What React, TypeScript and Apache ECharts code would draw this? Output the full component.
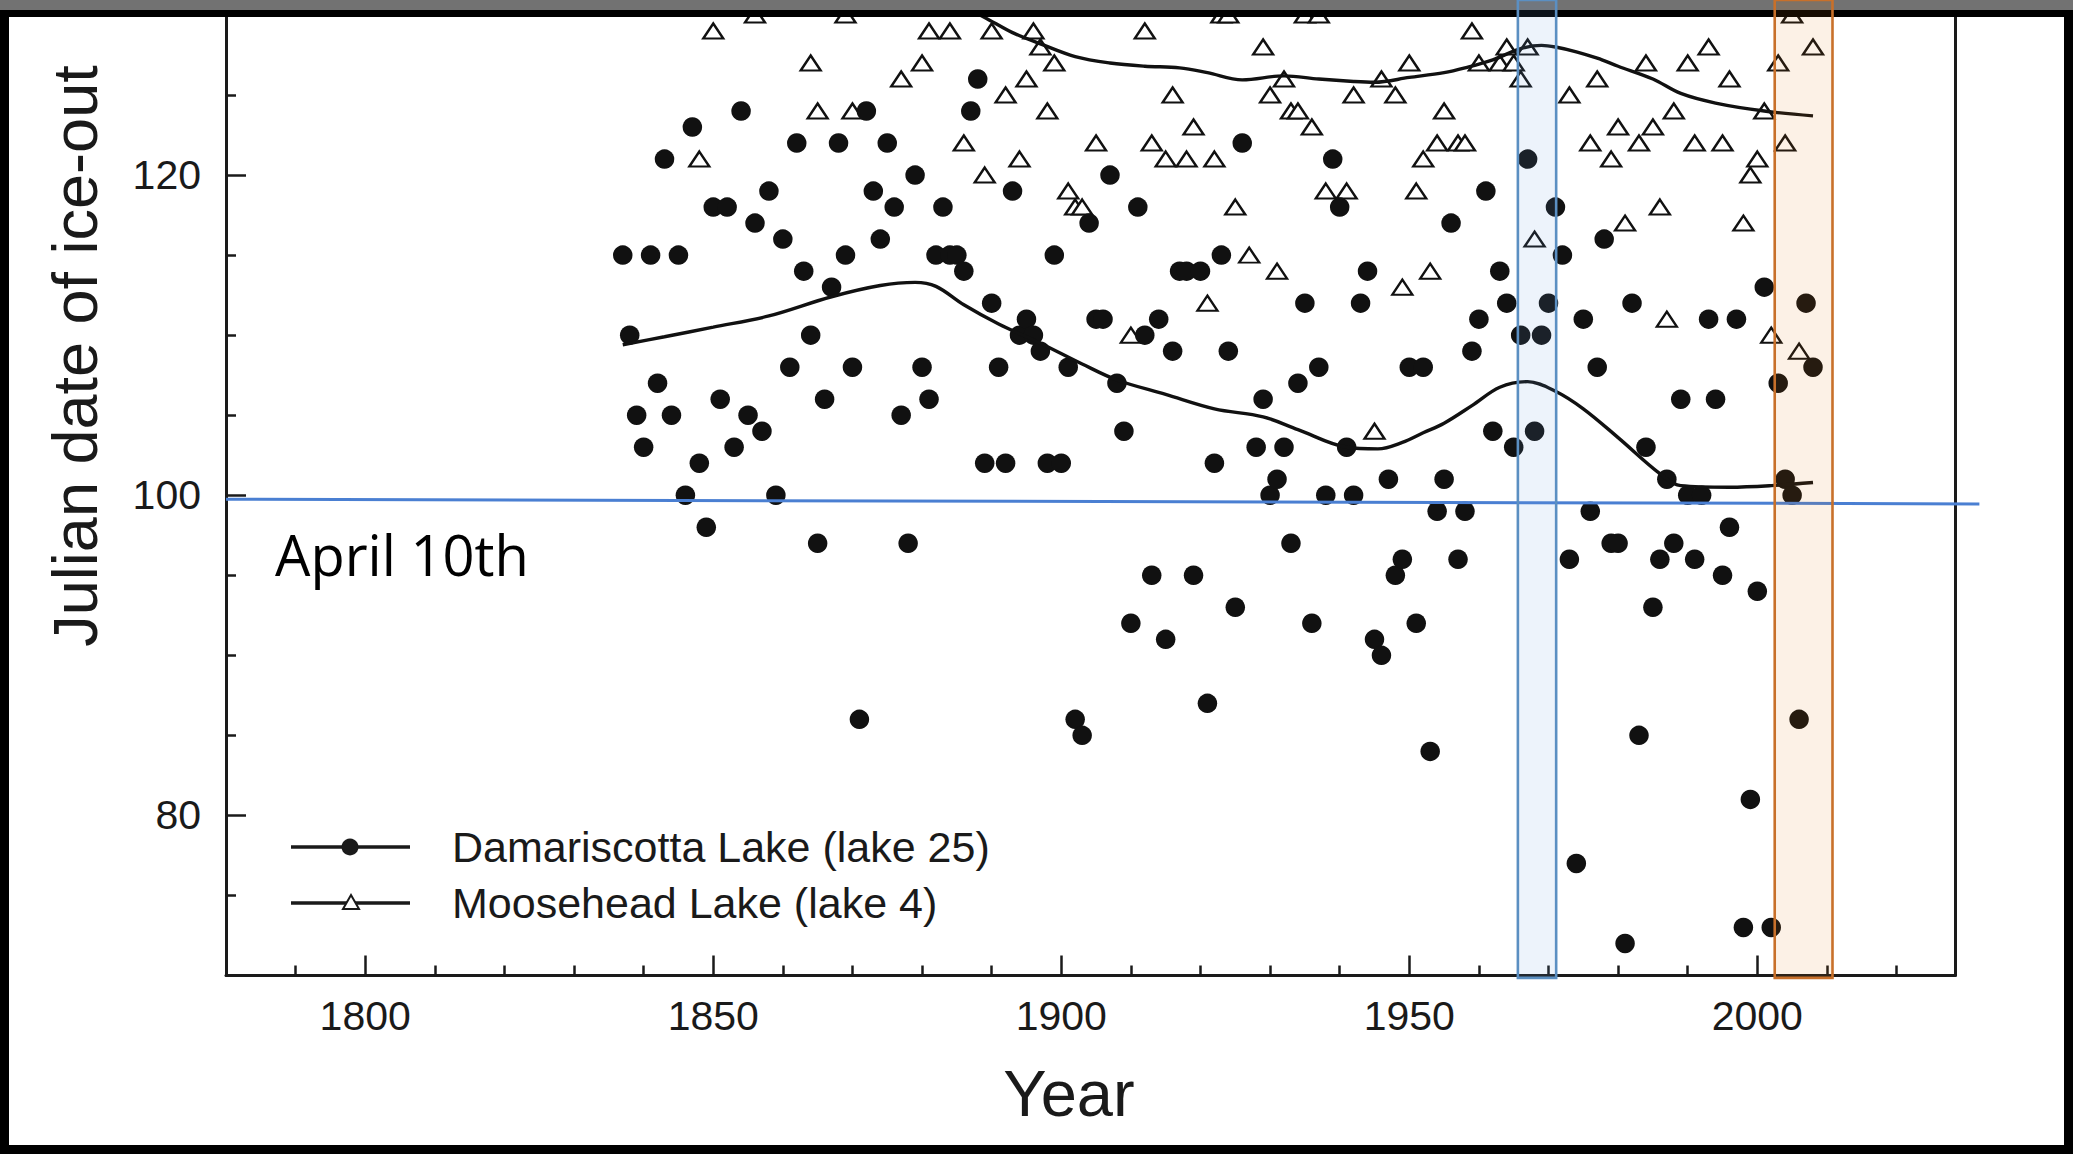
import React, { useEffect, useRef } from "react";
import * as echarts from "echarts";

// ---------------- data ----------------
const damYears = [
  1837, 1838, 1839, 1840, 1841, 1842, 1843, 1844, 1845, 1846, 1847, 1848, 1849, 1850, 1851, 1852, 1853, 1854, 1855, 1856,
  1857, 1858, 1859, 1860, 1861, 1862, 1863, 1864, 1865, 1866, 1867, 1868, 1869, 1870, 1871, 1872, 1873, 1874, 1875, 1876,
  1877, 1878, 1879, 1880, 1881, 1882, 1883, 1884, 1885, 1886, 1887, 1888, 1889, 1890, 1891, 1892, 1893, 1894, 1895, 1896,
  1897, 1898, 1899, 1900, 1901, 1902, 1903, 1904, 1905, 1906, 1907, 1908, 1909, 1910, 1911, 1912, 1913, 1914, 1915, 1916,
  1917, 1918, 1919, 1920, 1921, 1922, 1923, 1924, 1925, 1926, 1928, 1929, 1930, 1931, 1932, 1933, 1934, 1935, 1936, 1937,
  1938, 1939, 1940, 1941, 1942, 1943, 1944, 1945, 1946, 1947, 1948, 1949, 1950, 1951, 1952, 1953, 1954, 1955, 1956, 1957,
  1958, 1959, 1960, 1961, 1962, 1963, 1964, 1965, 1966, 1967, 1968, 1969, 1970, 1971, 1972, 1973, 1974, 1975, 1976, 1977,
  1978, 1979, 1980, 1981, 1982, 1983, 1984, 1985, 1986, 1987, 1988, 1989, 1990, 1991, 1992, 1993, 1994, 1995, 1996, 1997,
  1998, 1999, 2000, 2001, 2002, 2003, 2004, 2005, 2006, 2007, 2008,
];
const damDays = [
  115, 110, 105, 103, 115, 107, 121, 105, 115, 100, 123, 102, 98, 118, 106, 118, 103, 124, 105, 117,
  104, 119, 100, 116, 108, 122, 114, 110, 97, 106, 113, 122, 115, 108, 86, 124, 119, 116, 122, 118,
  105, 97, 120, 108, 106, 115, 118, 115, 115, 114, 124, 126, 102, 112, 108, 102, 119, 110, 111, 110,
  109, 102, 115, 102, 108, 86, 85, 117, 111, 111, 120, 107, 104, 92, 118, 110, 95, 111, 91, 109,
  114, 114, 95, 114, 87, 102, 115, 109, 93, 122, 103, 106, 100, 101, 103, 97, 107, 112, 92, 108,
  100, 121, 118, 103, 100, 112, 114, 91, 90, 101, 95, 96, 108, 92, 108, 84, 99, 101, 117, 96,
  99, 109, 111, 119, 104, 114, 112, 103, 110, 121, 104, 110, 112, 118, 115, 96, 77, 111, 99, 108,
  116, 97, 97, 72, 112, 85, 103, 93, 96, 101, 97, 106, 100, 96, 100, 111, 106, 95, 98, 111,
  73, 81, 94, 113, 73, 107, 101, 100, 86, 112, 108,
];

const mooseYears = [
  1848, 1850, 1856, 1864, 1865, 1869, 1870, 1877, 1880, 1881, 1884, 1886, 1889, 1890, 1892, 1894, 1895, 1896, 1897, 1898,
  1899, 1901, 1902, 1903, 1905, 1910, 1912, 1913, 1915, 1916, 1918, 1919, 1921, 1922, 1923, 1924, 1925, 1927, 1929, 1930,
  1931, 1932, 1933, 1934, 1935, 1936, 1937, 1938, 1941, 1942, 1945, 1946, 1948, 1949, 1950, 1951, 1952, 1953, 1954, 1955,
  1957, 1958, 1959, 1960, 1963, 1964, 1965, 1966, 1967, 1968, 1973, 1976, 1977, 1979, 1980, 1981, 1983, 1984, 1985, 1986,
  1987, 1988, 1990, 1991, 1993, 1995, 1996, 1998, 1999, 2000, 2001, 2002, 2003, 2004, 2005, 2006, 2008,
];
const mooseDays = [
  121, 129, 130, 127, 124, 130, 124, 126, 127, 129, 129, 122, 120, 129, 125, 121, 126, 129, 128, 124,
  127, 119, 118, 118, 122, 110, 129, 122, 121, 125, 121, 123, 112, 121, 130, 130, 118, 115, 128, 125,
  114, 126, 124, 124, 130, 123, 130, 119, 119, 125, 104, 126, 125, 113, 127, 119, 121, 114, 122, 124,
  122, 122, 129, 127, 127, 128, 127, 126, 128, 116, 125, 122, 126, 121, 123, 117, 122, 127, 123, 118,
  111, 124, 127, 122, 128, 122, 126, 117, 120, 121, 124, 110, 127, 122, 130, 109, 128,
];

const damTrendYears = [
  1837, 1843, 1850, 1858, 1867, 1874, 1879, 1882, 1886, 1891, 1897, 1903, 1908, 1915, 1922, 1929, 1934, 1941, 1945.5,
  1949, 1952, 1955, 1959, 1963, 1967, 1971, 1975, 1980, 1986, 1989, 1996, 2002, 2008,
];
const damTrendDays = [
  109.4, 109.9, 110.5, 111.2, 112.4, 113.1, 113.3, 113.05, 111.9, 110.7, 109.5, 108.2, 107.2, 106.3, 105.4, 104.9, 104.1,
  103.0, 102.9, 103.3, 103.9, 104.5, 105.6, 106.75, 107.1, 106.5, 105.4, 103.6, 101.35, 100.6, 100.5, 100.6, 100.8,
];

const mooseTrendYears = [
  1886, 1889, 1893, 1897, 1902, 1907, 1912, 1917, 1921, 1926, 1932, 1937, 1942, 1945, 1950, 1955, 1958, 1962, 1966, 1969,
  1971, 1974, 1977, 1980, 1985, 1989, 1994, 2001, 2008,
];
const mooseTrendDays = [
  130.5, 129.85, 128.9, 128.2, 127.4, 127.0, 126.8, 126.7, 126.4, 125.95, 126.2, 126.0, 125.85, 125.8, 126.1, 126.4,
  126.7, 127.2, 127.9, 128.1, 128.0, 127.7, 127.3, 126.8, 126.0, 125.1, 124.5, 124.0, 123.7,
];

const xMajorTicks = [1800, 1850, 1900, 1950, 2000];
const xMinorTicks = [1790, 1810, 1820, 1830, 1840, 1860, 1870, 1880, 1890, 1910, 1920, 1930, 1940, 1960, 1970, 1980, 1990, 2010, 2020];
const yMajorTicks = [80, 100, 120];
const yMinorTicks = [75, 85, 90, 95, 105, 110, 115, 125];

const seriesNames = ["Damariscotta Lake (lake 25)", "Moosehead Lake (lake 4)"];
const blueBoxYears = [1965.6, 1971.1];
const orangeBoxYears = [2002.5, 2010.8];
const april10Line = [
  [1780, 99.75],
  [2031.9, 99.46],
];

const zip = (xs: number[], ys: number[]) => xs.map((x, i) => [x, ys[i]]);

export default function App() {
  const ref = useRef<HTMLDivElement>(null);

  useEffect(() => {
    const el = ref.current;
    if (!el) return;
    const chart = echarts.init(el, null, { renderer: "svg" });
    const FONT = '"Liberation Sans", Arial, Helvetica, sans-serif';
    const INK = "#1a1a1a";

    const X_MIN = 1780;
    const X_MAX = 2028.4;
    const Y_MIN = 70;
    const Y_MAX = 130;

    const tickStyle = { color: INK, width: 2.5 };

    chart.setOption({
      animation: false,
      backgroundColor: "#000",
      grid: {
        left: 226,
        right: 118,
        top: 15,
        bottom: 178.5,
        containLabel: false,
        outerBoundsMode: "none",
      },
      xAxis: [
        {
          type: "value",
          min: X_MIN,
          max: X_MAX,
          position: "bottom",
          axisLine: { show: true, onZero: false, lineStyle: { color: INK, width: 3 } },
          axisTick: { show: true, inside: true, length: 20, customValues: xMajorTicks, lineStyle: tickStyle },
          axisLabel: {
            show: true,
            customValues: xMajorTicks,
            formatter: (v: number) => String(v),
            margin: 20,
            fontSize: 41,
            fontFamily: FONT,
            color: INK,
          },
          splitLine: { show: false },
        },
        {
          type: "value",
          min: X_MIN,
          max: X_MAX,
          position: "bottom",
          axisLine: { show: false, onZero: false },
          axisTick: { show: true, inside: true, length: 10, customValues: xMinorTicks, lineStyle: tickStyle },
          axisLabel: { show: false },
          splitLine: { show: false },
        },
      ],
      yAxis: [
        {
          type: "value",
          min: Y_MIN,
          max: Y_MAX,
          position: "left",
          axisLine: { show: true, onZero: false, lineStyle: { color: INK, width: 3 } },
          axisTick: { show: true, inside: true, length: 20, customValues: yMajorTicks, lineStyle: tickStyle },
          axisLabel: {
            show: true,
            customValues: yMajorTicks,
            formatter: (v: number) => String(v),
            margin: 25,
            fontSize: 41,
            fontFamily: FONT,
            color: INK,
          },
          splitLine: { show: false },
        },
        {
          type: "value",
          min: Y_MIN,
          max: Y_MAX,
          position: "left",
          axisLine: { show: false, onZero: false },
          axisTick: { show: true, inside: true, length: 10, customValues: yMinorTicks, lineStyle: tickStyle },
          axisLabel: { show: false },
          splitLine: { show: false },
        },
        {
          type: "value",
          min: Y_MIN,
          max: Y_MAX,
          position: "right",
          axisLine: { show: true, onZero: false, lineStyle: { color: INK, width: 3 } },
          axisTick: { show: false },
          axisLabel: { show: false },
          splitLine: { show: false },
        },
      ],
      series: [
        {
          type: "scatter",
          name: seriesNames[1],
          data: zip(mooseYears, mooseDays),
          symbol: "triangle",
          symbolSize: [20, 15],
          itemStyle: { color: "#ffffff", borderColor: "#111", borderWidth: 2.3, opacity: 1 },
          silent: true,
          z: 3,
        },
        {
          type: "scatter",
          name: seriesNames[0],
          data: zip(damYears, damDays),
          symbol: "circle",
          symbolSize: 19.5,
          itemStyle: { color: "#111111", opacity: 1 },
          silent: true,
          z: 3,
        },
        {
          type: "line",
          name: seriesNames[0] + " trend",
          data: zip(damTrendYears, damTrendDays),
          smooth: 0.35,
          showSymbol: false,
          clip: true,
          lineStyle: { color: "#111", width: 3.4 },
          silent: true,
          z: 4,
        },
        {
          type: "line",
          name: seriesNames[1] + " trend",
          data: zip(mooseTrendYears, mooseTrendDays),
          smooth: 0.35,
          showSymbol: false,
          clip: true,
          lineStyle: { color: "#111", width: 3.4 },
          silent: true,
          z: 4,
        },
      ],
    });

    const px = (x: number, y: number) => chart.convertToPixel({ seriesIndex: 1 }, [x, y]) as number[];

    const boxBottom = px(blueBoxYears[0], 69.85)[1];
    const boxRect = (years: number[], fill: string, stroke: string) => {
      const a = px(years[0], Y_MIN);
      const b = px(years[1], Y_MIN);
      return {
        type: "rect",
        z: 60,
        silent: true,
        shape: { x: a[0], y: 0, width: b[0] - a[0], height: boxBottom },
        style: { fill, stroke, lineWidth: 2.6 },
      };
    };
    const l0 = px(april10Line[0][0], april10Line[0][1]);
    const l1 = px(april10Line[1][0], april10Line[1][1]);

    const legendY1 = 847;
    const legendY2 = 903;

    chart.setOption({
      graphic: [
        // slide white area behind the chart
        { type: "rect", z: -10, silent: true, shape: { x: 9, y: 17, width: 2055, height: 1128 }, style: { fill: "#ffffff" } },
        // top crop band of the slide
        { type: "rect", z: 50, silent: true, shape: { x: 0, y: 0, width: 2073, height: 10 }, style: { fill: "#727272" } },
        { type: "rect", z: 50, silent: true, shape: { x: 0, y: 10, width: 2073, height: 7 }, style: { fill: "#000000" } },
        // April 10th reference line
        {
          type: "line",
          z: 55,
          silent: true,
          shape: { x1: l0[0], y1: l0[1], x2: l1[0], y2: l1[1] },
          style: { stroke: "#4a7fd2", lineWidth: 3 },
        },
        {
          type: "text",
          z: 55,
          silent: true,
          x: 275,
          y: 554,
          style: { text: "April 10th", fill: "#000", fontSize: 56, fontFamily: '"Open Sans", "Noto Sans", sans-serif', align: "left", verticalAlign: "middle" },
        },
        // highlight boxes
        boxRect(blueBoxYears, "rgba(105,155,222,0.12)", "#5b8fc2"),
        boxRect(orangeBoxYears, "rgba(225,115,5,0.10)", "#c8702a"),
        // axis titles
        {
          type: "text",
          z: 55,
          silent: true,
          x: 1069,
          y: 1093,
          style: { text: "Year", fill: INK, fontSize: 65, fontFamily: FONT, align: "center", verticalAlign: "middle" },
        },
        {
          type: "text",
          z: 55,
          silent: true,
          x: 75,
          y: 356,
          rotation: Math.PI / 2,
          style: { text: "Julian date of ice-out", fill: INK, fontSize: 63, fontFamily: FONT, align: "center", verticalAlign: "middle" },
        },
        // legend
        { type: "line", z: 55, silent: true, shape: { x1: 291, y1: legendY1, x2: 410, y2: legendY1 }, style: { stroke: INK, lineWidth: 3.5 } },
        { type: "circle", z: 56, silent: true, shape: { cx: 350, cy: legendY1, r: 8.5 }, style: { fill: INK } },
        {
          type: "text",
          z: 55,
          silent: true,
          x: 452,
          y: legendY1,
          style: { text: seriesNames[0], fill: INK, fontSize: 43, fontFamily: FONT, align: "left", verticalAlign: "middle" },
        },
        { type: "line", z: 55, silent: true, shape: { x1: 291, y1: legendY2, x2: 410, y2: legendY2 }, style: { stroke: INK, lineWidth: 3.5 } },
        {
          type: "polygon",
          z: 56,
          silent: true,
          shape: { points: [[351, legendY2 - 8], [359, legendY2 + 6], [343, legendY2 + 6]] },
          style: { fill: "#fff", stroke: INK, lineWidth: 2 },
        },
        {
          type: "text",
          z: 55,
          silent: true,
          x: 452,
          y: legendY2,
          style: { text: seriesNames[1], fill: INK, fontSize: 43, fontFamily: FONT, align: "left", verticalAlign: "middle" },
        },
      ],
    });

    return () => {
      chart.dispose();
    };
  }, []);

  return (
    <div
      ref={ref}
      style={{ position: "fixed", left: 0, top: 0, width: 2073, height: 1154 }}
    />
  );
}
